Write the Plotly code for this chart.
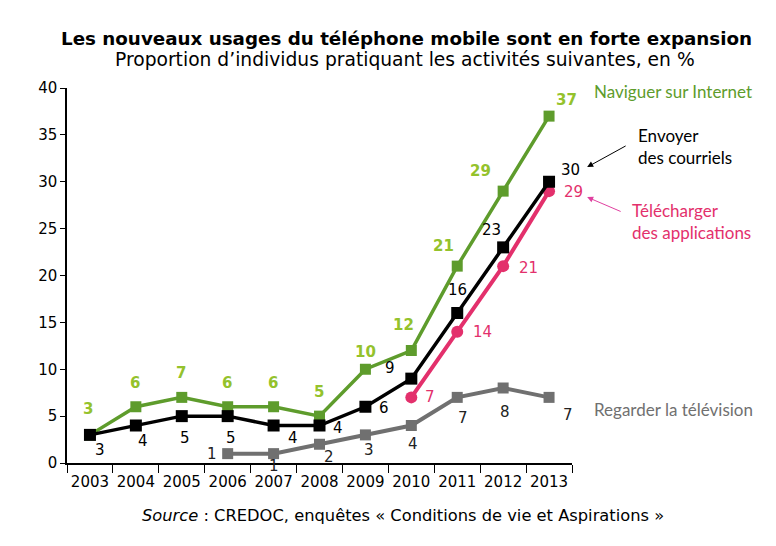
"""
Usages du telephone mobile, 2003-2013 (CREDOC)
"""

import plotly.graph_objects as go

# Data
years = ["2003", "2004", "2005", "2006", "2007", "2008", "2009", "2010", "2011", "2012", "2013"]
internet = [3, 6, 7, 6, 6, 5, 10, 12, 21, 29, 37]
courriels = [3, 4, 5, 5, 4, 4, 6, 9, 16, 23, 30]
years_appli = ["2010", "2011", "2012", "2013"]
applications = [7, 14, 21, 29]
years_tele = ["2006", "2007", "2008", "2009", "2010", "2011", "2012", "2013"]
television = [1, 1, 2, 3, 4, 7, 8, 7]

# Label offsets in pixels (dx, dy), one per point
off_internet = [(-2, 26), (-1, 24), (-1, 24), (-1, 24), (-1, 24), (-1, 24), (0, 17), (-8, 26), (-14, 20), (-23, 20), (17, 16)]
off_courriels = [(10, -15), (7, -15), (3, -22), (3, -22), (19, -12), (18, -2), (19, -1), (-21, 11), (0, 23), (-12, 17), (21, 12)]
off_appli = [(19, 0), (25, 0), (25, -2), (24, -1)]
off_tele = [(-16, 0), (0, -12), (9, -13), (4, -15), (2, -18), (6, -21), (2, -24), (19, -18)]

GREEN = "#5e9c2c"
GREEN_TXT = "#94c22c"
PINK = "#e3306c"
GRAY = "#707070"
FONT = "DejaVu Sans"

fig = go.Figure()


def add_series(x, y, color, symbol, width, size):
    fig.add_trace(go.Scatter(
        x=x, y=y, mode="lines+markers",
        line=dict(color=color, width=width),
        marker=dict(symbol=symbol, size=size, color=color),
        showlegend=False,
    ))


add_series(years_tele, television, GRAY, "square", 4, 11)
add_series(years, internet, GREEN, "square", 3.5, 11)
add_series(years_appli, applications, PINK, "circle", 4, 12)
add_series(years, courriels, "black", "square", 3.5, 12)


def add_labels(x, y, offsets, color, bold=False):
    for xi, yi, (dx, dy) in zip(x, y, offsets):
        txt = f"<b>{yi}</b>" if bold else str(yi)
        fig.add_annotation(x=years.index(xi), y=yi, xref="x", yref="y", text=txt,
                           showarrow=False, xshift=dx, yshift=dy,
                           font=dict(family=FONT, size=15, color=color))


add_labels(years, internet, off_internet, GREEN_TXT, bold=True)
add_labels(years, courriels, off_courriels, "black")
add_labels(years_appli, applications, off_appli, PINK)
add_labels(years_tele, television, off_tele, "#222222")


def add_text(x, y, text, size, color, family, xanchor="left"):
    fig.add_annotation(x=x, y=y, xref="paper", yref="paper", xanchor=xanchor,
                       yanchor="middle", align="left", text=text, showarrow=False,
                       font=dict(family=family, size=size, color=color))


# Series names
LAB_FONT = "Lato"
add_text(1.04, 0.992, "Naviguer sur Internet", 17, GREEN, LAB_FONT)
add_text(1.127, 0.845, "Envoyer<br>des courriels", 17, "black", LAB_FONT)
add_text(1.115, 0.645, "Télécharger<br>des applications", 17, PINK, LAB_FONT)
add_text(1.04, 0.144, "Regarder la télévision", 17, GRAY, LAB_FONT)

# Arrows
fig.add_annotation(x=1.03, y=0.789, xref="paper", yref="paper", text="",
                   showarrow=True, ax=40, ay=-22, arrowhead=2, arrowsize=1.2,
                   arrowwidth=1, arrowcolor="black")
fig.add_annotation(x=1.03, y=0.709, xref="paper", yref="paper", text="",
                   showarrow=True, ax=35, ay=15, arrowhead=2, arrowsize=1.2,
                   arrowwidth=1, arrowcolor="#e040a0")

# Titles and source
add_text(0.673, 1.133, "<b>Les nouveaux usages du téléphone mobile sont en forte expansion</b>",
         18.3, "black", "DejaVu Sans", xanchor="center")
add_text(0.67, 1.075, "Proportion d’individus pratiquant les activités suivantes, en %",
         18.7, "black", "DejaVu Sans", xanchor="center")
add_text(0.665, -0.141, "<i>Source</i> : CREDOC, enquêtes « Conditions de vie et Aspirations »",
         16.3, "black", FONT, xanchor="center")

fig.update_layout(
    width=776, height=546,
    margin=dict(l=59, r=212, t=80, b=91),
    plot_bgcolor="white", paper_bgcolor="white",
    font=dict(family=FONT, size=15, color="black"),
    xaxis=dict(type="category", categoryorder="array", categoryarray=years,
               range=[-0.5, 10.5], showline=True, linecolor="black", tickangle=0,
               linewidth=1.5, ticks="outside", tickson="boundaries", ticklen=8,
               tickcolor="black", showgrid=False, zeroline=False, fixedrange=True,
               automargin=False, ticklabelstandoff=4),
    yaxis=dict(range=[0, 40], dtick=5, showline=True, linecolor="black", linewidth=1.5,
               ticks="outside", ticklen=5, tickcolor="black", showgrid=False,
               zeroline=False, fixedrange=True, automargin=False),
)

fig.write_html("out.html")
